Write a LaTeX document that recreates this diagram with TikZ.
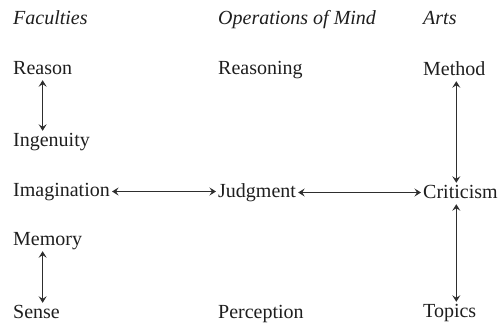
\documentclass[tikz,border=0pt]{standalone}
\usepackage{fontspec}
\setmainfont{Liberation Serif}
\usetikzlibrary{arrows.meta, calc}
\definecolor{inkDark}{HTML}{1E1E1E}
\definecolor{lineDark}{HTML}{2E2E2E}

\begin{document}
\begin{tikzpicture}[x=1pt, y=-1pt,
    term/.style={anchor=base west, inner sep=2pt, text height=13pt, text depth=4pt,
      font=\fontsize{20}{24}\selectfont, text=inkDark},
    head/.style={term, font=\fontsize{20}{24}\selectfont\itshape},
    link/.style={{Stealth[length=6.5pt,width=8pt,inset=2.5pt]}-{Stealth[length=6.5pt,width=8pt,inset=2.5pt]},
      line width=1.2pt, color=lineDark}]
  \useasboundingbox (0,0) rectangle (499,327);
  \node[head] (faculties) at (11,24) {Faculties};
  \node[head] (operations) at (216,24) {Operations of Mind};
  \node[head] (arts) at (421,24) {Arts};
  \node[term] (reason) at (11,74) {Reason};
  \node[term] (ingenuity) at (11,146) {Ingenuity};
  \node[term] (imagination) at (11,196) {Imagination};
  \node[term] (memory) at (11,245) {Memory};
  \node[term] (sense) at (11,318) {Sense};
  \node[term] (reasoning) at (216,74) {Reasoning};
  \node[term] (judgment) at (216,197) {Judgment};
  \node[term] (perception) at (216,318) {Perception};
  \node[term] (method) at (421,75) {Method};
  \node[term] (criticism) at (421,198) {Criticism};
  \node[term] (topics) at (421,317) {Topics};
  \draw[link] (reason.south) -- (reason.south |- ingenuity.north);
  \draw[link] (memory.south -| reason.south) -- (sense.north -| reason.south);
  \draw[link] (imagination.east) -- (imagination.east -| judgment.west);
  \draw[link] (judgment.east) -- (judgment.east -| criticism.west);
  \draw[link] ($(method.south)+(2,0)$) -- ($(method.south |- criticism.north)+(2,0)$);
  \draw[link] ($(criticism.south -| method.south)+(2,0)$) -- ($(method.south |- topics.north)+(2,0)$);
\end{tikzpicture}
\end{document}
